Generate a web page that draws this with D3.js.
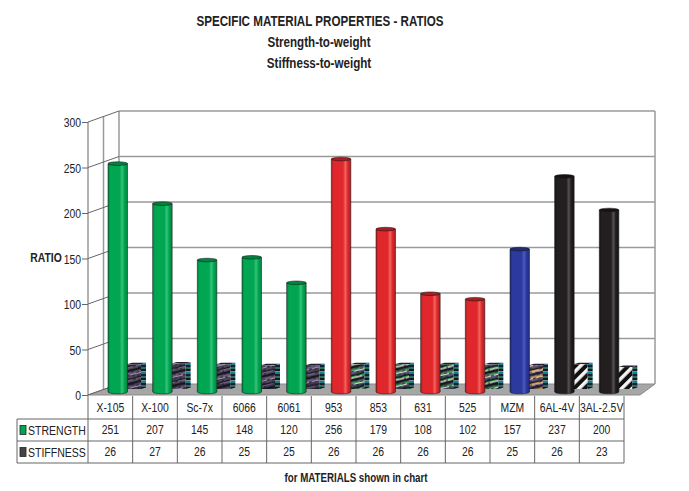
<!DOCTYPE html>
<html><head><meta charset="utf-8">
<script src="https://cdn.jsdelivr.net/npm/d3@7/dist/d3.min.js"></script>
<style>html,body{margin:0;padding:0;background:#fff}svg{display:block}
text{font-family:"Liberation Sans",Arial,sans-serif;fill:#222}</style>
</head><body><div id="c"></div>
<script>
const materials=["X-105","X-100","Sc-7x","6066","6061","953","853","631","525","MZM","6AL-4V","3AL-2.5V"];
const strength=[251,207,145,148,120,256,179,108,102,157,237,200];
const stiffness=[26,27,26,25,25,26,26,26,26,25,26,23];
const groups=["g","g","g","g","g","r","r","r","r","b","k","k"];
const yTicks=[0,50,100,150,200,250,300];
const groupColor={g:["#00843f","#00a651","#35c27c"],r:["#a81e22","#e0282c","#f0655f"],b:["#1f2c78","#2b3a9c","#4a5ac0"],k:["#141213","#231f20","#55514f"]};
const groupStripes={g:["#17171f","#17171f","#5a3f80","#a888bc","#17171f","#17171f","#1c1c28","#6a4a90","#17171f","#17171f"],r:["#101c16","#101c16","#1a9a48","#d8dcb8","#3c2e90","#101c16","#101c16","#17803f","#c8d0b0","#16162a"],b:["#1e1a2c","#1e1a2c","#d89848","#dcb888","#4e3278","#1e1a2c","#1e1a2c","#c08238","#d8b888","#3e3068"],k:["#fff"]};

const W=689,H=491;
const svg=d3.select("#c").append("svg").attr("width",W).attr("height",H);
const defs=svg.append("defs");
const x0=88,x1=624,yBase=395,yTop=122,dx=31,dy=-11;
const x=d3.scaleBand().domain(materials).range([x0,x1]);
const y=d3.scaleLinear().domain([0,300]).range([yBase,yTop]);
const gridC="#9a9a9a",axisC="#666";

function squeeze(sel,k){
  sel.each(function(){
    const t=d3.select(this), px=+t.attr("x")||0, py=+t.attr("y")||0;
    t.attr("x",0).attr("y",0).attr("transform",`translate(${px},${py}) scale(${k},1)`);
  });
  return sel;
}

Object.entries(groupColor).forEach(([k,c])=>{
  const g=defs.append("linearGradient").attr("id","cyl"+k);
  [[0,c[0]],[.12,c[1]],[.6,c[1]],[.72,c[2]],[.84,c[1]],[1,c[0]]].forEach(s=>g.append("stop").attr("offset",s[0]).attr("stop-color",s[1]));
  const p=defs.append("pattern").attr("id","pat"+k).attr("patternUnits","userSpaceOnUse");
  if(k==="k"){
    p.attr("width",7.5).attr("height",7.5).attr("patternTransform","rotate(-45)");
    p.append("rect").attr("width",7.5).attr("height",7.5).attr("fill","#111");
    p.append("rect").attr("width",7.5).attr("height",3.5).attr("fill","#f4f4f4");
  }else{
    const st=groupStripes[k];
    p.attr("width",14).attr("height",st.length*1.3).attr("patternTransform","skewY(-14)");
    st.forEach((col,i)=>{
      p.append("rect").attr("y",i*1.3).attr("width",14).attr("height",1.3).attr("fill",col);
      p.append("rect").attr("x",(i*5)%14).attr("y",i*1.3).attr("width",3).attr("height",1.3).attr("fill","#14141c").attr("opacity",.75);
    });
  }
});
const sidePat=defs.append("pattern").attr("id","side").attr("patternUnits","userSpaceOnUse").attr("width",5).attr("height",9);
[["#10181f",0],["#12808a",3],["#151f3a",5],["#2a7058",7]].forEach(d=>sidePat.append("rect").attr("y",d[1]).attr("width",5).attr("height",2.5).attr("fill",d[0]));

const yBack=v=>y(v)+dy;
svg.append("polygon").attr("fill","#a6a6a6").attr("stroke","#8a8a8a")
  .attr("points",[[x0,yBase],[x0+dx,yBase+dy],[x1+dx,yBase+dy],[x1+16,yBase]].join(" "));
const grid=svg.append("g").attr("fill","none").attr("stroke",gridC).attr("stroke-width",1.5);
yTicks.filter(v=>v>0).forEach(v=>{
  grid.append("line").attr("x1",x0+dx).attr("x2",x1+dx).attr("y1",yBack(v)).attr("y2",yBack(v));
});
grid.append("line").attr("x1",x0+dx).attr("x2",x0+dx).attr("y1",yBack(300)).attr("y2",yBack(0));
grid.append("line").attr("x1",x1+dx).attr("x2",x1+dx).attr("y1",yBack(300)).attr("y2",yBack(0));
grid.append("line").attr("x1",x0+dx/2).attr("x2",x0+dx/2).attr("y1",y(300)+dy/2).attr("y2",y(0)+dy/2);
const wall=svg.append("g").attr("stroke",axisC).attr("stroke-width",1);
yTicks.forEach(v=>wall.append("line").attr("x1",x0).attr("x2",x0+dx).attr("y1",y(v)).attr("y2",yBack(v)));
wall.append("line").attr("x1",x0).attr("x2",x0).attr("y1",y(300)).attr("y2",y(0));

const ax=svg.append("g").attr("transform",`translate(${x0},0)`)
  .call(d3.axisLeft(y).tickValues(yTicks).tickSize(6).tickPadding(1).tickFormat(d3.format("d")));
ax.select(".domain").remove();
ax.selectAll("line").attr("stroke",axisC);
ax.selectAll("text").attr("font-size",13).attr("dy",null).attr("y",4.5).call(squeeze,.8);

const bw=x.bandwidth();
materials.forEach((m,i)=>{
  const k=groups[i];
  const bx=x(m)+39, bf=14, bs=5, base=y(0)-6;
  const top=base-(y(0)-y(stiffness[i]))-1;
  const g=svg.append("g");
  g.append("polygon").attr("fill","#22222a").attr("points",[[bx,top],[bx+bs,top-1.5],[bx+bf+bs,top-1.5],[bx+bf,top]].join(" "));
  g.append("rect").attr("x",bx).attr("y",top).attr("width",bf).attr("height",base-top).attr("fill",`url(#pat${k})`);
  g.append("polygon").attr("fill","url(#side)").attr("points",[[bx+bf,top],[bx+bf+bs,top-1.5],[bx+bf+bs,base-1.5],[bx+bf,base]].join(" "));
  const cw=19.5, cx=x(m)+20, b=y(0)-3, t=b-(y(0)-y(strength[i])), c=groupColor[k];
  const rx=cw/2, ry=1.8;
  const cyl=svg.append("g").attr("stroke","#1a1a1a").attr("stroke-opacity",.7).attr("stroke-width",.8);
  cyl.append("path").attr("fill",`url(#cyl${k})`)
    .attr("d",`M${cx},${t}V${b}A${rx},${ry} 0 0 0 ${cx+cw},${b}V${t}Z`);
  cyl.append("ellipse").attr("cx",cx+rx).attr("cy",t).attr("rx",rx).attr("ry",ry).attr("fill",c[0]);
});

const rowY=[396,419,441,463], legendX=17;
const tb=svg.append("g").attr("stroke",axisC).attr("stroke-width",1);
[1,2,3].forEach(r=>tb.append("line").attr("x1",legendX).attr("x2",x1).attr("y1",rowY[r]).attr("y2",rowY[r]));
tb.append("line").attr("x1",legendX).attr("x2",legendX).attr("y1",rowY[1]).attr("y2",rowY[3]);
[...materials.map(m=>x(m)),x1].forEach(v=>tb.append("line").attr("x1",v).attr("x2",v).attr("y1",rowY[0]).attr("y2",rowY[3]));
[materials,strength,stiffness].forEach((r,ri)=>r.forEach((v,i)=>{
  svg.append("text").attr("x",x(materials[i])+bw/2).attr("y",(rowY[ri]+rowY[ri+1])/2+4)
    .attr("text-anchor","middle").attr("font-size",13).text(v).call(squeeze,.8);
}));
["STRENGTH","STIFFNESS"].forEach((d,i)=>{
  const cy=(rowY[i+1]+rowY[i+2])/2;
  svg.append("rect").attr("x",20).attr("y",cy-4.5).attr("width",6).attr("height",9)
    .attr("fill",i?"#444":"#00a651").attr("stroke","#222").attr("stroke-width",.8);
  svg.append("text").attr("x",28).attr("y",cy+4.5).attr("font-size",13).text(d).call(squeeze,.81);
});

const title=(t,cx,cy,size,k)=>svg.append("text").attr("x",cx).attr("y",cy).attr("text-anchor","middle")
  .attr("font-size",size).style("font-weight","700").text(t).call(squeeze,k);
title("SPECIFIC MATERIAL PROPERTIES - RATIOS",320,26,15,.775);
title("Strength-to-weight",319,47,14.5,.8);
title("Stiffness-to-weight",319,68,14.5,.8);
title("RATIO",46,262,13,.8);
title("for  MATERIALS shown in chart",356,482,12.5,.78);
</script></body></html>
